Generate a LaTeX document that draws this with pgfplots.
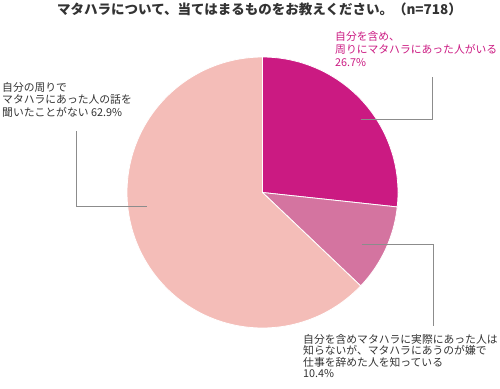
\documentclass[border=0pt]{standalone}
\usepackage{pgfplots}
\pgfplotsset{compat=1.18}
\usepackage{fontspec}
\setmainfont{Noto Sans CJK JP}
\definecolor{cA}{HTML}{CB1A82}
\definecolor{cB}{HTML}{D474A0}
\definecolor{cC}{HTML}{F4BDB8}
\definecolor{txt}{HTML}{333333}
\definecolor{lead}{HTML}{8C8C8C}
\begin{document}
\begin{tikzpicture}
\def\va{26.7}\def\vb{10.4}\def\vc{62.9}
\pgfmathsetmacro{\aA}{90}
\pgfmathsetmacro{\aB}{90-3.6*\va}
\pgfmathsetmacro{\aC}{90-3.6*(\va+\vb)}
\pgfmathsetmacro{\aD}{90-3.6*(\va+\vb+\vc)}
\def\cx{262.5}\def\cy{192.5}\def\R{135.5}
\begin{axis}[
  width=500pt, height=388pt, scale only axis,
  xmin=0, xmax=500, ymin=0, ymax=388, y dir=reverse,
  hide axis, clip=false,
]
\addplot[fill=cA, draw=white, line width=0.8pt, domain=\aB:\aA, samples=80, variable=\t]
  ({\cx+\R*cos(\t)},{\cy-\R*sin(\t)}) -- (axis cs:\cx,\cy) -- cycle;
\addplot[fill=cB, draw=white, line width=0.8pt, domain=\aC:\aB, samples=40, variable=\t]
  ({\cx+\R*cos(\t)},{\cy-\R*sin(\t)}) -- (axis cs:\cx,\cy) -- cycle;
\addplot[fill=cC, draw=white, line width=0.8pt, domain=\aD:\aC, samples=160, variable=\t]
  ({\cx+\R*cos(\t)},{\cy-\R*sin(\t)}) -- (axis cs:\cx,\cy) -- cycle;
% leader lines
\addplot[lead, line width=0.7pt] coordinates {(361,119) (432.7,119) (432.7,77)};
\addplot[lead, line width=0.7pt] coordinates {(76,131) (76,206.5) (147,206.5)};
\addplot[lead, line width=0.7pt] coordinates {(361.5,244) (433.3,244) (433.3,326)};
% title
\node[anchor=center, text=txt, font=\fontsize{13.5}{15}\selectfont\bfseries] at (axis cs:259.5,9) {マタハラについて、当てはまるものをお教えください。（n=718）};
% labels
\begin{scope}[every node/.style={anchor=west, inner sep=0pt, font=\fontsize{10.8}{12}\selectfont}]
\node[text=cA] at (axis cs:335,36) {自分を含め、};
\node[text=cA] at (axis cs:335,49.3) {周りにマタハラにあった人がいる};
\node[text=cA] at (axis cs:335,62.7) {26.7\%};
\node[text=txt] at (axis cs:2,87.3) {自分の周りで};
\node[text=txt] at (axis cs:2,99.8) {マタハラにあった人の話を};
\node[text=txt] at (axis cs:2,112.7) {聞いたことがない 62.9\%};
\node[text=txt] at (axis cs:303,339) {自分を含めマタハラに実際にあった人は};
\node[text=txt] at (axis cs:303,350.8) {知らないが、マタハラにあうのが嫌で};
\node[text=txt] at (axis cs:303,362.5) {仕事を辞めた人を知っている};
\node[text=txt] at (axis cs:303,374) {10.4\%};
\end{scope}
\end{axis}
\pgfresetboundingbox
\path[use as bounding box] (current axis.south west) rectangle (current axis.north east);
\end{tikzpicture}
\end{document}
